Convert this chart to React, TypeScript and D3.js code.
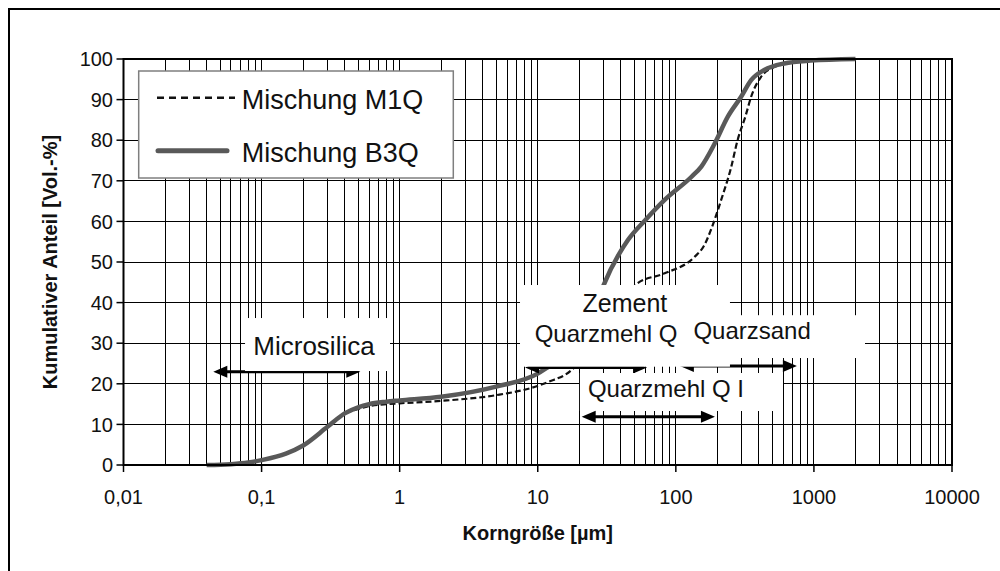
import React from "react";
import * as d3 from "d3";

// grain size [µm] / cumulative share [Vol.-%]
const m1qSize = [0.04, 0.06, 0.08, 0.1, 0.15, 0.2, 0.3, 0.4, 0.5, 0.6, 0.8, 1, 2, 5, 9, 12, 17.6, 25, 35, 45, 53, 83, 137, 160, 185, 213, 250, 280, 320, 351, 414, 517, 759, 1000, 2000];
const m1qValue = [0, 0.2, 0.6, 1.2, 2.8, 4.8, 9.4, 12.6, 13.8, 14.5, 15, 15.2, 15.8, 17.2, 19, 20.5, 23.4, 30, 38, 42.5, 44.8, 47.2, 51.3, 54, 59.1, 65.3, 73, 80, 86, 90.7, 95.6, 98, 99.3, 99.7, 100];

const b3qSize = [0.04, 0.06, 0.08, 0.1, 0.15, 0.2, 0.3, 0.4, 0.5, 0.6, 0.8, 1, 2, 5, 10, 12, 15, 18.7, 22, 25, 30, 45, 60, 83, 130, 153, 190, 238, 297, 351, 437, 609, 944, 2000];
const b3qValue = [0, 0.2, 0.6, 1.2, 2.8, 4.8, 9.4, 12.7, 14.2, 15, 15.6, 15.9, 16.8, 19.3, 22.5, 24.2, 25.8, 27.6, 32, 37, 44.3, 55.4, 60.3, 65.3, 71, 73.5, 79, 85.8, 90.7, 94.8, 97.3, 98.9, 99.6, 100];

const xTicks = [0.01, 0.1, 1, 10, 100, 1000, 10000];
const xTickLabels = ["0,01", "0,1", "1", "10", "100", "1000", "10000"];
const yTicks = [0, 10, 20, 30, 40, 50, 60, 70, 80, 90, 100];

const seriesNames = ["Mischung M1Q", "Mischung B3Q"];

const W = 1000;
const H = 571;
const FONT = "'Liberation Sans', Arial, sans-serif";

const x = d3.scaleLog().domain([0.01, 10000]).range([123.5, 952]);
const y = d3.scaleLinear().domain([0, 100]).range([465, 59]);

// minor grid: 2..9 inside each decade
const minorX: number[] = [];
xTicks.slice(0, -1).forEach((d) => {
  for (let k = 2; k <= 9; k++) minorX.push(k * d);
});

const line = d3
  .line<[number, number]>()
  .x((d) => x(d[0]))
  .y((d) => y(d[1]))
  .curve(d3.curveMonotoneX);

const zip = (a: number[], b: number[]) => a.map((v, i) => [v, b[i]] as [number, number]);

function Arrow({ x1, x2, yv }: { x1: number; x2: number; yv: number }) {
  const a = x(x1);
  const b = x(x2);
  const yy = y(yv);
  const len = 14;
  const hh = 6;
  return (
    <g>
      <line x1={a + len - 2} x2={b - len + 2} y1={yy} y2={yy} stroke="#000" strokeWidth={3} />
      <polygon points={`${a},${yy} ${a + len},${yy - hh} ${a + len},${yy + hh}`} fill="#000" />
      <polygon points={`${b},${yy} ${b - len},${yy - hh} ${b - len},${yy + hh}`} fill="#000" />
    </g>
  );
}

function Box({ x1, x2, y1, y2 }: { x1: number; x2: number; y1: number; y2: number }) {
  return <rect x={x(x1)} y={y(y1)} width={x(x2) - x(x1)} height={y(y2) - y(y1)} fill="#fff" />;
}

export default function App() {
  const left = x.range()[0];
  const right = x.range()[1];
  const top = y.range()[1];
  const bottom = y.range()[0];
  const annFont = 24;

  return (
    <svg width={W} height={H} style={{ position: "absolute", left: 0, top: 0, background: "#fff" }} fontFamily={FONT}>
      <rect width={W} height={H} fill="#fff" />
      {/* outer frame */}
      <polyline points={`9,${H} 9,9 ${W},9`} fill="none" stroke="#000" strokeWidth={2} />

      {/* grid */}
      <g stroke="#000" strokeWidth={1} shapeRendering="crispEdges">
        {minorX.map((v, i) => (
          <line key={"m" + i} x1={x(v)} x2={x(v)} y1={top} y2={bottom} />
        ))}
        {xTicks.map((v, i) => (
          <line key={"M" + i} x1={x(v)} x2={x(v)} y1={top} y2={bottom} />
        ))}
        {yTicks.map((v, i) => (
          <line key={"h" + i} x1={left} x2={right} y1={y(v)} y2={y(v)} />
        ))}
      </g>

      {/* curves */}
      <path d={line(zip(m1qSize, m1qValue)) || ""} fill="none" stroke="#111" strokeWidth={2.2} strokeDasharray="6,3" />
      <path d={line(zip(b3qSize, b3qValue)) || ""} fill="none" stroke="#595959" strokeWidth={4.5} strokeLinejoin="round" />

      {/* plot border */}
      <rect x={left} y={top} width={right - left} height={bottom - top} fill="none" stroke="#000" strokeWidth={2} />

      {/* ticks */}
      <g stroke="#000" strokeWidth={1.5}>
        {yTicks.map((v, i) => (
          <line key={i} x1={left - 7} x2={left} y1={y(v)} y2={y(v)} />
        ))}
        {xTicks.map((v, i) => (
          <line key={i} x1={x(v)} x2={x(v)} y1={bottom} y2={bottom + 7} />
        ))}
      </g>
      <g fontSize={20} fill="#111">
        {yTicks.map((v, i) => (
          <text key={i} x={113} y={y(v)} dy="0.36em" textAnchor="end">
            {v}
          </text>
        ))}
        {xTicks.map((v, i) => (
          <text key={i} x={x(v)} y={504} textAnchor="middle">
            {xTickLabels[i]}
          </text>
        ))}
      </g>

      {/* axis titles */}
      <text x={(left + right) / 2} y={540} textAnchor="middle" fontWeight="bold" fontSize={20} fill="#111">
        Korngröße [µm]
      </text>
      <text
        transform={`translate(50,${(top + bottom) / 2}) rotate(-90)`}
        dy="0.35em"
        textAnchor="middle"
        fontWeight="bold"
        fontSize={20}
        fill="#111"
      >
        Kumulativer Anteil [Vol.-%]
      </text>

      {/* annotations */}
      <Arrow x1={0.0447} x2={0.519} yv={22.98} />
      <Box x1={0.0759} x2={0.851} y1={36.2} y2={23.15} />
      <text x={x(0.0871)} y={y(27.1)} fontSize={26} fill="#111">
        Microsilica
      </text>

      <Arrow x1={8.09} x2={61.9} yv={24.0} />
      <Arrow x1={107} x2={753} yv={24.4} />
      <Box x1={7.44} x2={246.6} y1={44.33} y2={24.21} />
      <text x={x(42.8)} y={y(37.76)} fontSize={25} textAnchor="middle" fill="#111">
        Zement
      </text>
      <text x={x(9.5)} y={y(30.37)} fontSize={24} fill="#111">
        Quarzmehl Q
      </text>
      <Box x1={118.5} x2={2344} y1={36.9} y2={26.35} />
      <text x={x(134)} y={y(30.96)} fontSize={annFont} fill="#111">
        Quarzsand
      </text>

      <Box x1={20.2} x2={597} y1={22.66} y2={13.3} />
      <text x={x(23.1)} y={y(16.8)} fontSize={annFont} fill="#111">
        Quarzmehl Q I
      </text>
      <Arrow x1={20.8} x2={192} yv={11.9} />

      {/* legend */}
      <rect x={138.7} y={71} width={314.6} height={107} fill="#fff" stroke="#7f7f7f" strokeWidth={1.5} />
      <line x1={157} x2={235} y1={97.7} y2={97.7} stroke="#111" strokeWidth={2.5} strokeDasharray="7,5" />
      <line x1={158} x2={227} y1={150.7} y2={150.7} stroke="#595959" strokeWidth={5} strokeLinecap="round" />
      <text x={241.7} y={109.3} fontSize={27} fill="#111">
        {seriesNames[0]}
      </text>
      <text x={241.7} y={161.7} fontSize={27} fill="#111">
        {seriesNames[1]}
      </text>
    </svg>
  );
}
